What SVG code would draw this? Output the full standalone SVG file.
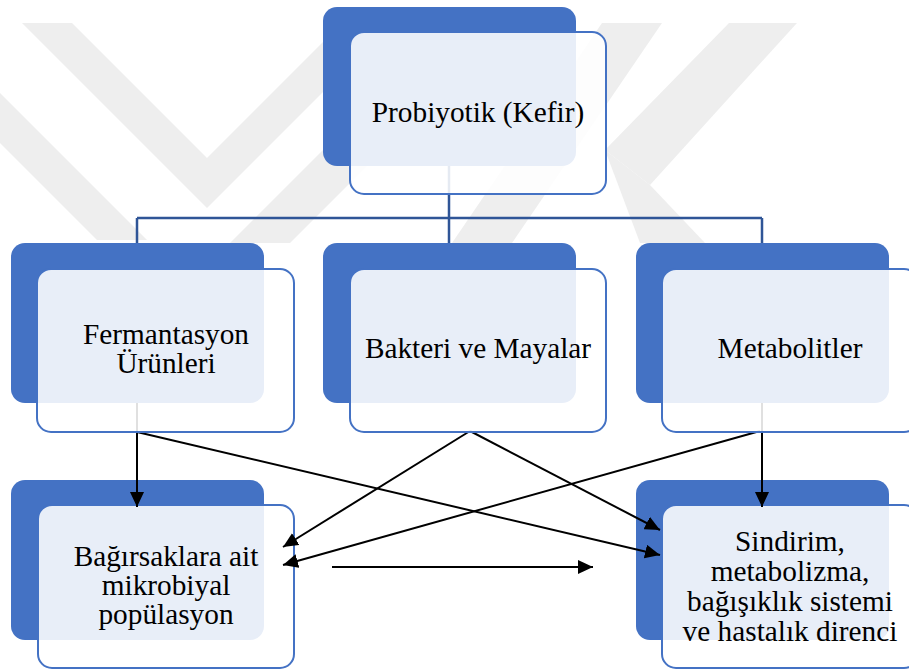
<svg xmlns="http://www.w3.org/2000/svg" width="909" height="669" viewBox="0 0 909 669">
<style>
.back{fill:#4472C4}
.front{fill:#FFFFFF;fill-opacity:.88;stroke:#4472C4;stroke-width:2}
.t{font-family:"Liberation Serif","Times New Roman",serif;font-size:29.3px;fill:#000;text-anchor:middle}
.tree{stroke:#2F5597;stroke-width:2.5;fill:none}
.arr{stroke:#000;stroke-width:2;fill:none;marker-end:url(#ah)}
.wm{fill:#EEEEEE}
</style>
<defs>
<marker id="ah" markerUnits="userSpaceOnUse" markerWidth="15" markerHeight="14" refX="15" refY="7" orient="auto" viewBox="0 0 15 14">
<path d="M0,0 L15,7 L0,14 z" fill="#000"/>
</marker>
</defs>
<rect width="909" height="669" fill="#FFFFFF"/>
<g id="watermark">
<polygon class="wm" points="22,23 72,23 207,158 342,23 392,23 207,208"/>
<polygon class="wm" points="0,93 0,143 97,240 147,240"/>
<polygon class="wm" points="230,243 290,243 400,133 340,133"/>
<polygon class="wm" points="602,23 662,23 512,243 452,243"/>
<polygon class="wm" points="729,23 797,23 650,185 605,150"/>
<polygon class="wm" points="605,150 650,185 705,243 640,243"/>
</g>
<g id="node-bagirsak">
<rect class="back" x="11" y="480" width="253" height="160" rx="14"/>
<rect class="front" x="38" y="505" width="256" height="163" rx="14"/>
<text class="t" x="166" y="566">Bağırsaklara ait</text>
<text class="t" x="166" y="595">mikrobiyal</text>
<text class="t" x="166" y="624">popülasyon</text>
</g>
<g id="node-sindirim">
<rect class="back" x="636" y="480" width="253" height="160" rx="14"/>
<rect class="front" x="662" y="505" width="256" height="163" rx="14"/>
<text class="t" x="790" y="551">Sindirim,</text>
<text class="t" x="790" y="581">metabolizma,</text>
<text class="t" x="790" y="611">bağışıklık sistemi</text>
<text class="t" x="790" y="641">ve hastalık direnci</text>
</g>
<g id="connectors">
<path class="tree" d="M449,166 V218 M137,218 H762 M137,218 V243 M449,218 V243 M762,218 V243"/>
<line class="arr" x1="137" y1="403" x2="137" y2="507"/>
<line class="arr" x1="137" y1="432" x2="660" y2="555"/>
<line class="arr" x1="470" y1="431" x2="283" y2="547"/>
<line class="arr" x1="470" y1="431" x2="660" y2="530"/>
<line class="arr" x1="760" y1="431" x2="283" y2="565"/>
<line class="arr" x1="762" y1="403" x2="762" y2="507"/>
<line class="arr" x1="332" y1="567" x2="593" y2="567"/>
</g>
<g id="node-probiyotik">
<rect class="back" x="323" y="7" width="253" height="159" rx="14"/>
<rect class="front" x="350" y="32" width="256" height="162" rx="14"/>
<text class="t" x="478" y="122">Probiyotik (Kefir)</text>
</g>
<g id="node-fermantasyon">
<rect class="back" x="11" y="243" width="253" height="160" rx="14"/>
<rect class="front" x="37" y="269" width="257" height="163" rx="14"/>
<text class="t" x="166" y="344">Fermantasyon</text>
<text class="t" x="166" y="373">Ürünleri</text>
</g>
<g id="node-bakteri">
<rect class="back" x="323" y="243" width="253" height="160" rx="14"/>
<rect class="front" x="350" y="269" width="256" height="163" rx="14"/>
<text class="t" x="478" y="358">Bakteri ve Mayalar</text>
</g>
<g id="node-metabolitler">
<rect class="back" x="636" y="243" width="253" height="160" rx="14"/>
<rect class="front" x="662" y="269" width="256" height="163" rx="14"/>
<text class="t" x="790" y="358">Metabolitler</text>
</g>
</svg>
